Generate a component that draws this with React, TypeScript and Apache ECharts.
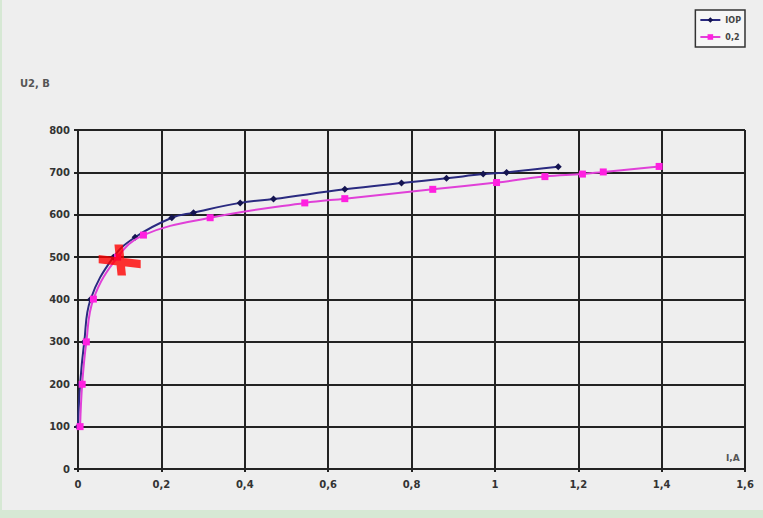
import React, { useEffect, useRef } from "react";
import * as echarts from "echarts";

const xTicks = ["0", "0,2", "0,4", "0,6", "0,8", "1", "1,2", "1,4", "1,6"];
const seriesNames = ["IOP", "0,2"];
const iopX = [0.0, 0.005, 0.015, 0.03, 0.085, 0.137, 0.225, 0.277, 0.389, 0.469, 0.64, 0.776, 0.884, 0.972, 1.028, 1.152];
const iopY = [100, 200, 300, 400, 500, 547, 593, 605, 628, 637, 660, 675, 686, 696, 700, 713];
const p02X = [0.005, 0.01, 0.02, 0.037, 0.095, 0.157, 0.317, 0.544, 0.64, 0.851, 1.004, 1.12, 1.21, 1.26, 1.394];
const p02Y = [100, 200, 300, 401, 500, 552, 593, 628, 638, 660, 676, 690, 696, 701, 714];
const markX = [0.1];
const markY = [493];

const crossPath = "path://M0,10 L40,15 L40,23 L0,18 Z M15,0 L23,0 L26,30 L18,30 Z";

export default function App() {
  const ref = useRef<HTMLDivElement>(null);
  useEffect(() => {
    if (!ref.current) return;
    const chart = echarts.init(ref.current, null, { renderer: "svg" });
    const fmtX = (v: number) => {
      const i = Math.round(v / 0.2);
      return xTicks[i] ?? "";
    };
    chart.setOption({
      animation: false,
      backgroundColor: "#eeeeee",
      grid: { left: 78, right: 18, top: 130, bottom: 41 },
      xAxis: {
        type: "value",
        min: 0,
        max: 1.6,
        interval: 0.2,
        axisLine: { onZero: false, lineStyle: { color: "#222", width: 2 } },
        axisTick: { show: true, length: 3, lineStyle: { color: "#222", width: 2 } },
        axisLabel: { formatter: fmtX, color: "#333", fontSize: 10, fontWeight: "bold", fontFamily: "DejaVu Sans", margin: 10 },
        splitLine: { show: true, lineStyle: { color: "#222", width: 2 } },
      },
      yAxis: {
        type: "value",
        min: 0,
        max: 800,
        interval: 100,
        axisLine: { show: true, lineStyle: { color: "#222", width: 2 } },
        axisTick: { show: true, length: 4, lineStyle: { color: "#222", width: 2 } },
        axisLabel: { color: "#333", fontSize: 10, fontWeight: "bold", fontFamily: "DejaVu Sans", margin: 8 },
        splitLine: { show: true, lineStyle: { color: "#222", width: 2 } },
      },
      legend: {
        data: seriesNames,
        orient: "vertical",
        right: 18,
        top: 10,
        itemWidth: 20,
        itemHeight: 7,
        itemGap: 9,
        padding: [6, 4, 6, 4],
        borderColor: "#333",
        borderWidth: 1.5,
        backgroundColor: "#f6f6f6",
        textStyle: { fontSize: 8, fontWeight: "bold", color: "#444", fontFamily: "DejaVu Sans" },
      },
      graphic: [
        { type: "text", left: 20, top: 78, style: { text: "U2, B", fontSize: 10, fontWeight: "bold", fill: "#555", fontFamily: "DejaVu Sans" } },
        { type: "text", left: 726, top: 453, style: { text: "I,A", fontSize: 9, fontWeight: "bold", fill: "#555", fontFamily: "DejaVu Sans" } },
      ],
      series: [
        {
          name: seriesNames[0],
          type: "line",
          data: iopX.map((x, i) => [x, iopY[i]]),
          smooth: 0.4,
          symbol: "diamond",
          symbolSize: 7,
          lineStyle: { color: "#2a2a80", width: 2 },
          itemStyle: { color: "#141450" },
          z: 3,
        },
        {
          name: seriesNames[1],
          type: "line",
          data: p02X.map((x, i) => [x, p02Y[i]]),
          smooth: 0.4,
          symbol: "rect",
          symbolSize: 7,
          lineStyle: { color: "#e040d8", width: 2 },
          itemStyle: { color: "#ff20e0" },
          z: 4,
        },
        {
          name: "mark",
          type: "scatter",
          data: markX.map((x, i) => [x, markY[i]]),
          symbol: crossPath,
          symbolSize: [42, 31],
          itemStyle: { color: "#ff0000" },
          z: 10,
        },
      ],
    });
    return () => chart.dispose();
  }, []);
  return (
    <div style={{ position: "fixed", left: 0, top: 0, width: 763, height: 518, background: "#d6e8d4" }}>
      <div ref={ref} style={{ position: "absolute", left: 0, top: 0, width: 763, height: 510 }} />
      <div style={{ position: "absolute", left: 0, top: 0, width: 2, height: 518, background: "#d6e8d4" }} />
    </div>
  );
}
